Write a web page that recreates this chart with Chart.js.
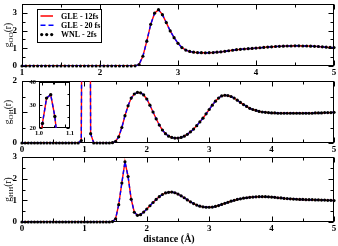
<!DOCTYPE html>
<html>
<head>
<meta charset="utf-8">
<script src="https://cdn.jsdelivr.net/npm/chart.js@4.4.1/dist/chart.umd.min.js"></script>
<style>
  html, body { margin: 0; padding: 0; background: #fff; }
  #wrap { position: relative; width: 338px; height: 246px; overflow: hidden; }
  #wrap canvas { position: absolute; }
  #xlabel {
    position: absolute; left: 0; width: 338px; top: 233px; line-height: 12px;
    text-align: center; font: bold 10px "Liberation Serif", serif; color: #000;
  }
</style>
</head>
<body>
<div id="wrap">
  <canvas id="c-oo" width="338" height="76" style="left:0;top:0"></canvas>
  <canvas id="c-oh" width="338" height="81" style="left:0;top:72px"></canvas>
  <canvas id="c-hh" width="338" height="85" style="left:0;top:148px"></canvas>
  <canvas id="c-inset" width="56" height="59" style="left:18px;top:78px"></canvas>
  <div id="xlabel">distance (Å)</div>
</div>
<script>
// series names, as in the legend
const seriesNames = ['GLE - 12fs', 'GLE - 20 fs', 'WNL - 2fs'];

// r grid of g_OO (Å)
const rOO = [
  1.00, 1.05, 1.10, 1.15, 1.20, 1.25, 1.30, 1.35, 1.40, 1.45,
  1.50, 1.55, 1.60, 1.65, 1.70, 1.75, 1.80, 1.85, 1.90, 1.95,
  2.00, 2.05, 2.10, 2.15, 2.20, 2.25, 2.30, 2.35, 2.40, 2.45,
  2.50, 2.55, 2.60, 2.65, 2.70, 2.75, 2.80, 2.85, 2.90, 2.95,
  3.00, 3.05, 3.10, 3.15, 3.20, 3.25, 3.30, 3.35, 3.40, 3.45,
  3.50, 3.55, 3.60, 3.65, 3.70, 3.75, 3.80, 3.85, 3.90, 3.95,
  4.00, 4.05, 4.10, 4.15, 4.20, 4.25, 4.30, 4.35, 4.40, 4.45,
  4.50, 4.55, 4.60, 4.65, 4.70, 4.75, 4.80, 4.85, 4.90, 4.95,
  5.00
];
const gOO = [
  0, 0, 0, 0, 0, 0, 0, 0, 0, 0,
  0, 0, 0, 0, 0, 0, 0, 0, 0, 0,
  0, 0, 0, 0, 0, 0, 0, 0, 0, 0.01,
  0.08, 0.55, 1.40, 2.35, 2.98, 3.18, 2.90, 2.45, 1.98, 1.60,
  1.28, 1.04, 0.90, 0.82, 0.78, 0.76, 0.75, 0.745, 0.75, 0.76,
  0.78, 0.80, 0.83, 0.86, 0.89, 0.92, 0.94, 0.96, 0.98, 0.99,
  1.01, 1.03, 1.05, 1.07, 1.08, 1.10, 1.11, 1.12, 1.13, 1.13,
  1.14, 1.14, 1.13, 1.13, 1.12, 1.11, 1.10, 1.08, 1.06, 1.05,
  1.04
];

// r grid of g_OH and g_HH (Å)
const rAll = [
  0.00, 0.05, 0.10, 0.15, 0.20, 0.25, 0.30, 0.35, 0.40, 0.45,
  0.50, 0.55, 0.60, 0.65, 0.70, 0.75, 0.80, 0.85, 0.90, 0.95,
  1.00, 1.05, 1.10, 1.15, 1.20, 1.25, 1.30, 1.35, 1.40, 1.45,
  1.50, 1.55, 1.60, 1.65, 1.70, 1.75, 1.80, 1.85, 1.90, 1.95,
  2.00, 2.05, 2.10, 2.15, 2.20, 2.25, 2.30, 2.35, 2.40, 2.45,
  2.50, 2.55, 2.60, 2.65, 2.70, 2.75, 2.80, 2.85, 2.90, 2.95,
  3.00, 3.05, 3.10, 3.15, 3.20, 3.25, 3.30, 3.35, 3.40, 3.45,
  3.50, 3.55, 3.60, 3.65, 3.70, 3.75, 3.80, 3.85, 3.90, 3.95,
  4.00, 4.05, 4.10, 4.15, 4.20, 4.25, 4.30, 4.35, 4.40, 4.45,
  4.50, 4.55, 4.60, 4.65, 4.70, 4.75, 4.80, 4.85, 4.90, 4.95,
  5.00
];
const gOH = [
  0, 0, 0, 0, 0, 0, 0, 0, 0, 0,
  0, 0, 0, 0, 0, 0, 0, 0, 0, 0.08,
  22, 27, 0.3, 0, 0, 0, 0, 0, 0, 0.01,
  0.05, 0.20, 0.50, 0.88, 1.20, 1.45, 1.58, 1.63, 1.62, 1.55,
  1.42, 1.22, 1.00, 0.78, 0.58, 0.42, 0.30, 0.22, 0.18, 0.16,
  0.16, 0.18, 0.22, 0.28, 0.36, 0.45, 0.56, 0.68, 0.80, 0.94,
  1.08, 1.22, 1.35, 1.45, 1.52, 1.54, 1.53, 1.50, 1.45, 1.38,
  1.31, 1.24, 1.18, 1.12, 1.08, 1.05, 1.02, 1.00, 0.99, 0.98,
  0.97, 0.97, 0.96, 0.96, 0.96, 0.96, 0.96, 0.96, 0.96, 0.96,
  0.96, 0.96, 0.96, 0.96, 0.97, 0.97, 0.97, 0.98, 0.98, 0.98,
  0.99
];
const gHH = [
  0, 0, 0, 0, 0, 0, 0, 0, 0, 0,
  0, 0, 0, 0, 0, 0, 0, 0, 0, 0,
  0, 0, 0, 0, 0, 0, 0, 0, 0, 0.02,
  0.15, 0.80, 1.80, 2.78, 2.10, 1.05, 0.45, 0.31, 0.34, 0.46,
  0.60, 0.75, 0.90, 1.04, 1.17, 1.27, 1.34, 1.37, 1.38, 1.35,
  1.29, 1.21, 1.12, 1.02, 0.93, 0.85, 0.78, 0.73, 0.70, 0.68,
  0.68, 0.69, 0.72, 0.76, 0.81, 0.86, 0.91, 0.96, 1.00, 1.04,
  1.07, 1.10, 1.12, 1.14, 1.15, 1.16, 1.17, 1.17, 1.17, 1.16,
  1.15, 1.14, 1.12, 1.11, 1.09, 1.08, 1.07, 1.06, 1.05, 1.04,
  1.04, 1.03, 1.03, 1.03, 1.02, 1.02, 1.01, 1.01, 1.00, 1.00,
  0.99
];

// inset: top of the intramolecular O-H peak
const rInset = [0.982, 1.000, 1.018, 1.036, 1.054, 1.072];
const gInset = [6, 22, 33, 34.5, 25, 8];

const tickFont = { family: '"Liberation Serif", serif', size: 9, weight: 'bold' };

// frame and inward ticks on all four sides
const frameTicks = {
  id: 'frameTicks',
  beforeDatasetsDraw(chart, args, opts) {
    const { ctx, chartArea: a, scales } = chart;
    const L = Math.round(a.left) + 0.5, R = Math.round(a.right) - 0.5;
    const T = Math.round(a.top) + 0.5, B = Math.round(a.bottom) - 0.5;
    ctx.save();
    ctx.strokeStyle = '#000';
    ctx.lineWidth = 1;
    ctx.beginPath();
    const walk = (scale, major, minor, fn) => {
      const k0 = Math.ceil(scale.min / minor - 1e-6), k1 = Math.floor(scale.max / minor + 1e-6);
      for (let k = k0; k <= k1; k++) {
        const v = k * minor;
        const isMajor = Math.abs(v / major - Math.round(v / major)) < 1e-6;
        fn(Math.round(scale.getPixelForValue(v)) + 0.5, isMajor ? opts.big : opts.small);
      }
    };
    walk(scales.x, opts.xMajor, opts.xMinor, (p, len) => {
      ctx.moveTo(p, B); ctx.lineTo(p, B - len);
      ctx.moveTo(p, T); ctx.lineTo(p, T + len);
    });
    walk(scales.y, opts.yMajor, opts.yMinor, (p, len) => {
      ctx.moveTo(L, p); ctx.lineTo(L + len, p);
      ctx.moveTo(R, p); ctx.lineTo(R - len, p);
    });
    ctx.stroke();
    ctx.strokeRect(L, T, R - L, B - T);
    ctx.restore();
  }
};

// rotated y title with a subscript
const yTitle = {
  id: 'yTitle',
  afterDraw(chart, args, opts) {
    if (!opts.sub) return;
    const { ctx, chartArea } = chart;
    const big = '9.5px "Liberation Serif", serif';
    const small = '7px "Liberation Serif", serif';
    ctx.save();
    ctx.font = big;
    const wg = ctx.measureText('g').width, wt = ctx.measureText('(r)').width;
    ctx.font = small;
    const ws = ctx.measureText(opts.sub).width;
    ctx.translate(8, (chartArea.top + chartArea.bottom) / 2);
    ctx.rotate(-Math.PI / 2);
    ctx.fillStyle = '#000';
    let x = -(wg + ws + wt) / 2;
    ctx.font = big; ctx.fillText('g', x, 2.5); x += wg;
    ctx.font = small; ctx.fillText(opts.sub, x, 5); x += ws;
    ctx.font = big; ctx.fillText('(r)', x, 2.5);
    ctx.restore();
  }
};

// boxed legend inside the top panel
const boxLegend = {
  id: 'boxLegend',
  afterDraw(chart, args, opts) {
    if (!opts.show) return;
    const ctx = chart.ctx;
    const x0 = 37, y0 = 9, w = 64, h = 33;
    ctx.save();
    ctx.fillStyle = '#fff';
    ctx.fillRect(x0, y0, w, h);
    ctx.strokeStyle = '#000';
    ctx.lineWidth = 1;
    ctx.strokeRect(x0 + 0.5, y0 + 0.5, w, h);
    ctx.font = 'bold 8px "Liberation Serif", serif';
    ctx.textBaseline = 'middle';
    seriesNames.forEach((name, i) => {
      const y = y0 + 7 + i * 9.3;
      ctx.lineWidth = 1.5;
      if (i === 0) {
        ctx.strokeStyle = '#ff0000';
        ctx.beginPath(); ctx.moveTo(40.5, y); ctx.lineTo(53, y); ctx.stroke();
      } else if (i === 1) {
        ctx.strokeStyle = '#0000ff';
        ctx.setLineDash([5, 3]);
        ctx.beginPath(); ctx.moveTo(40.5, y); ctx.lineTo(54, y); ctx.stroke();
        ctx.setLineDash([]);
      } else {
        ctx.fillStyle = '#000';
        [41.7, 46.7, 51.7].forEach((px) => {
          ctx.beginPath(); ctx.arc(px, y, 1.6, 0, Math.PI * 2); ctx.fill();
        });
      }
      ctx.fillStyle = '#000';
      ctx.fillText(name, 61, y + 0.5);
    });
    ctx.restore();
  }
};

function toPoints(r, g) {
  return r.map((v, i) => ({ x: v, y: g[i] }));
}

function makeSets(r, g, dotR) {
  return [
    { label: seriesNames[2], data: toPoints(r, g), showLine: false, pointRadius: dotR,
      pointBackgroundColor: '#000', pointBorderWidth: 0, clip: 3 },
    { label: seriesNames[1], data: toPoints(r, g), borderColor: '#0000ff', borderWidth: 1.4,
      borderDash: [4, 3], pointRadius: 0, fill: false },
    { label: seriesNames[0], data: toPoints(r, g), borderColor: '#ff0000', borderWidth: 1.4,
      pointRadius: 0, fill: false },
  ];
}

function makePanel(id, cfg) {
  return new Chart(document.getElementById(id), {
    type: 'line',
    data: { datasets: makeSets(cfg.r, cfg.g, cfg.dotR || 1.6) },
    plugins: [frameTicks, yTitle, boxLegend],
    options: {
      responsive: false,
      animation: false,
      events: [],
      layout: { padding: cfg.padding },
      scales: {
        x: {
          type: 'linear', min: cfg.xMin, max: cfg.xMax,
          grid: { display: false, drawTicks: false }, border: { display: false },
          ticks: {
            stepSize: cfg.xStep, padding: 1, maxRotation: 0, autoSkip: false, color: '#000',
            font: cfg.font || tickFont, callback: (v) => v.toFixed(cfg.xDigits || 0),
          },
          afterFit(s) { s.height = cfg.xHeight; s.paddingLeft = 0; s.paddingRight = 0; },
        },
        y: {
          type: 'linear', min: cfg.yMin, max: cfg.yMax,
          grid: { display: false, drawTicks: false }, border: { display: false },
          ticks: {
            stepSize: cfg.yStep, padding: cfg.yPad, includeBounds: false, autoSkip: false,
            color: '#000', font: cfg.font || tickFont, callback: (v) => String(v),
          },
          afterFit(s) { s.width = cfg.yWidth; s.paddingTop = 0; s.paddingBottom = 0; },
        },
      },
      plugins: {
        legend: { display: false },
        tooltip: { enabled: false },
        frameTicks: cfg.ticks,
        yTitle: { sub: cfg.sub },
        boxLegend: { show: !!cfg.legend },
      },
    },
  });
}

const mainTicks = { xMajor: 1, xMinor: 0.5, yMajor: 1, yMinor: 0.5, big: 5, small: 3 };

makePanel('c-oo', {
  r: rOO, g: gOO, xMin: 1, xMax: 5, xStep: 1, yMin: 0, yMax: 3.5, yStep: 1,
  padding: { top: 1, right: 4, left: 0, bottom: 0 }, xHeight: 10, yWidth: 22, yPad: 5,
  ticks: mainTicks, sub: 'OO', legend: true,
});

makePanel('c-oh', {
  r: rAll, g: gOH, xMin: 0, xMax: 5, xStep: 1, yMin: 0, yMax: 2, yStep: 1,
  padding: { top: 9, right: 4, left: 0, bottom: 0 }, xHeight: 10, yWidth: 22, yPad: 5,
  ticks: mainTicks, sub: 'OH',
});

makePanel('c-hh', {
  r: rAll, g: gHH, xMin: 0, xMax: 5, xStep: 1, yMin: 0, yMax: 3, yStep: 1,
  padding: { top: 9, right: 4, left: 0, bottom: 0 }, xHeight: 11, yWidth: 22, yPad: 5,
  ticks: mainTicks, sub: 'HH',
});

makePanel('c-inset', {
  r: rInset, g: gInset, xMin: 0.985, xMax: 1.12, xStep: 0.1, xDigits: 1,
  yMin: 20, yMax: 40, yStep: 10, dotR: 1.7,
  padding: { top: 4, right: 4, left: 5, bottom: 0 }, xHeight: 9, yWidth: 16, yPad: 3,
  font: { family: '"Liberation Serif", serif', size: 6.5, weight: 'bold' },
  ticks: { xMajor: 0.1, xMinor: 0.05, yMajor: 10, yMinor: 5, big: 3, small: 2 },
});
</script>
</body>
</html>
